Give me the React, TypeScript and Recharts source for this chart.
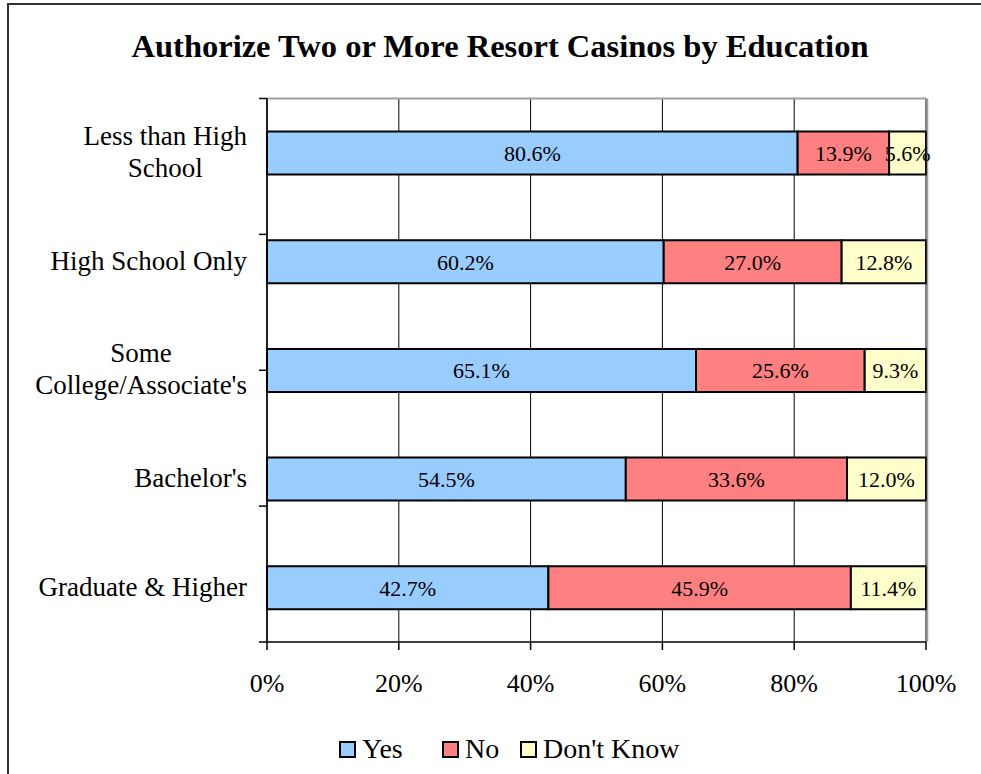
import { BarChart, Bar, XAxis, YAxis, CartesianGrid, LabelList } from 'recharts';

const categories = [
  'Less than High School',
  'High School Only',
  "Some College/Associate's",
  "Bachelor's",
  'Graduate & Higher',
];
const categoryLines = [
  ['Less than High', 'School'],
  ['High School Only'],
  ['Some', "College/Associate's"],
  ["Bachelor's"],
  ['Graduate & Higher'],
];
const yes = [80.6, 60.2, 65.1, 54.5, 42.7];
const no = [13.9, 27.0, 25.6, 33.6, 45.9];
const dontKnow = [5.6, 12.8, 9.3, 12.0, 11.4];
const xTicks = [0, 0.2, 0.4, 0.6, 0.8, 1];
const bandEdges = [0, 1, 2, 3, 4, 5];

const series = [
  { key: 'yes', name: 'Yes', color: '#99CCFF' },
  { key: 'no', name: 'No', color: '#FF8080' },
  { key: 'dk', name: "Don't Know", color: '#FFFFCC' },
];

const data = categories.map((name, i) => ({
  name,
  yes: yes[i],
  no: no[i],
  dk: dontKnow[i],
}));

const FONT = '"Liberation Serif", "Times New Roman", serif';
const CAT_SIZE = 27;
const TICK_SIZE = 26;

let ctx: CanvasRenderingContext2D | null = null;
function textWidth(t: string, size: number) {
  if (!ctx) ctx = document.createElement('canvas').getContext('2d');
  if (!ctx) return t.length * size * 0.5;
  ctx.font = `${size}px ${FONT}`;
  return ctx.measureText(t).width;
}

// multi-line labels, centred on each other, block right-aligned to the axis
function CategoryTick({ x, y, payload }: any) {
  const idx = categories.indexOf(payload.value);
  const lines = categoryLines[idx] || [payload.value];
  const w = Math.max(...lines.map((l) => textWidth(l, CAT_SIZE)));
  const cx = x - w / 2;
  const step = 32;
  const start = y - ((lines.length - 1) * step) / 2 + 8;
  return (
    <g>
      {lines.map((l, i) => (
        <text
          key={l}
          x={cx}
          y={start + i * step}
          textAnchor="middle"
          fontFamily={FONT}
          fontSize={CAT_SIZE}
          fill="#000"
        >
          {l}
        </text>
      ))}
    </g>
  );
}

// tick marks only, no labels
const NoLabel = () => <g />;

const legendItemWidths = [103, 78, undefined];

export default function App() {
  return (
    <div
      style={{
        position: 'absolute',
        left: 0,
        top: 0,
        width: 981,
        height: 774,
        overflow: 'hidden',
        background: '#fff',
        fontFamily: FONT,
      }}
    >
      {/* outer chart frame, runs off the right and bottom edge */}
      <div
        style={{
          position: 'absolute',
          left: 7,
          top: 3,
          width: 1100,
          height: 900,
          border: '2px solid #333',
        }}
      />
      <div
        style={{
          position: 'absolute',
          left: 0,
          top: 30,
          width: 1000,
          textAlign: 'center',
          fontWeight: 'bold',
          fontSize: 32.5,
          lineHeight: '32.5px',
          color: '#000',
        }}
      >
        Authorize Two or More Resort Casinos by Education
      </div>

      <div style={{ position: 'absolute', left: 0, top: 0 }}>
        <BarChart
          width={981}
          height={774}
          data={data}
          layout="vertical"
          stackOffset="expand"
          barSize={43}
          margin={{ top: 97.5, right: 54, bottom: 92, left: 0 }}
        >
          <CartesianGrid horizontal={false} stroke="#000" strokeWidth={1} />
          <XAxis
            type="number"
            domain={[0, 1]}
            ticks={xTicks}
            tickFormatter={(v: number) => `${Math.round(v * 100)}%`}
            height={40}
            tickSize={8}
            tickMargin={24}
            axisLine={{ stroke: '#000', strokeWidth: 1.5 }}
            tickLine={{ stroke: '#000', strokeWidth: 1.5 }}
            tick={{ fill: '#000', fontSize: TICK_SIZE, fontFamily: FONT }}
          />
          <XAxis
            xAxisId="top"
            orientation="top"
            type="number"
            domain={[0, 1]}
            ticks={[]}
            height={1}
            tick={NoLabel}
            tickLine={false}
            axisLine={{ stroke: '#A0A0A0', strokeWidth: 2 }}
          />
          <YAxis
            yAxisId="bounds"
            type="number"
            domain={[0, 5]}
            ticks={bandEdges}
            interval={0}
            width={1}
            tick={NoLabel}
            tickSize={8}
            axisLine={{ stroke: '#000', strokeWidth: 1.5 }}
            tickLine={{ stroke: '#000', strokeWidth: 1.5 }}
          />
          <YAxis
            yAxisId="cat"
            type="category"
            dataKey="name"
            width={266}
            axisLine={false}
            tickLine={false}
            tickSize={0}
            tickMargin={19}
            tick={<CategoryTick />}
            interval={0}
          />
          <YAxis
            yAxisId="right"
            orientation="right"
            type="number"
            domain={[0, 1]}
            ticks={[]}
            width={1}
            tick={NoLabel}
            tickLine={false}
            axisLine={{ stroke: '#A0A0A0', strokeWidth: 1.5, transform: 'translate(1.5,0)' }}
          />
          {series.map((s) => (
            <Bar
              key={s.key}
              dataKey={s.key}
              name={s.name}
              stackId="a"
              yAxisId="cat"
              fill={s.color}
              stroke="#000"
              strokeWidth={2}
              isAnimationActive={false}
            >
              <LabelList
                dataKey={s.key}
                position="center"
                formatter={(v: any) => `${Number(v).toFixed(1)}%`}
                fill="#000"
                fontSize={22}
                fontFamily={FONT}
              />
            </Bar>
          ))}
        </BarChart>
      </div>

      {/* legend */}
      <div
        style={{
          position: 'absolute',
          left: 339,
          top: 734,
          height: 30,
          display: 'flex',
          alignItems: 'center',
          fontSize: 28,
          lineHeight: '30px',
          color: '#000',
        }}
      >
        {series.map((s, i) => (
          <div
            key={s.key}
            style={{ display: 'flex', alignItems: 'center', width: legendItemWidths[i] }}
          >
            <span
              style={{
                display: 'inline-block',
                width: 17,
                height: 17,
                boxSizing: 'border-box',
                background: s.color,
                border: '2px solid #000',
                marginRight: 6,
              }}
            />
            <span>{s.name}</span>
          </div>
        ))}
      </div>
    </div>
  );
}
